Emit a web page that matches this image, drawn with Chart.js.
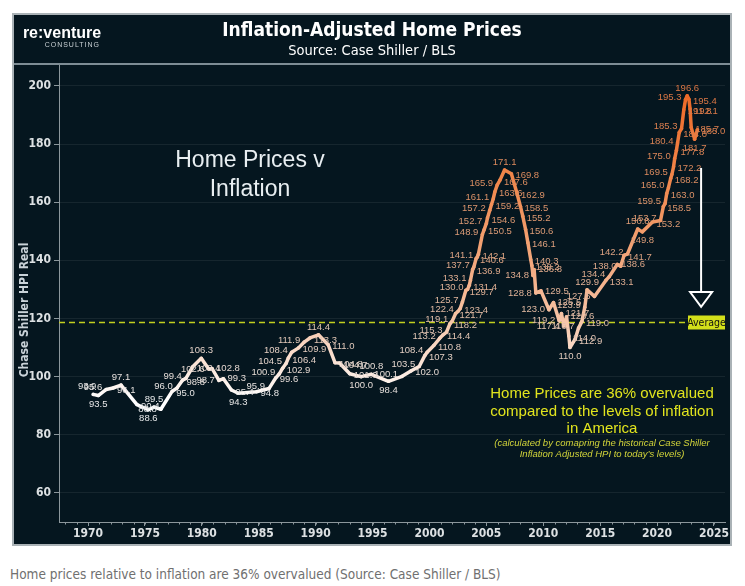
<!DOCTYPE html>
<html>
<head>
<meta charset="utf-8">
<script src="https://cdn.jsdelivr.net/npm/chart.js@4.4.1/dist/chart.umd.min.js"></script>
<style>
body{margin:0;background:#fff;width:745px;height:586px;overflow:hidden;position:relative;}
#panel{position:absolute;left:12px;top:13px;width:720px;height:533px;box-sizing:border-box;border:2px solid #aab2b6;background:#05161f;}
#panel canvas{display:block;}
#caption{position:absolute;left:10px;top:566px;font:13.5px 'DejaVu Sans Condensed',sans-serif;color:#707070;white-space:nowrap;}
</style>
</head>
<body>
<div id="panel"><canvas id="hpiChart" width="716" height="529"></canvas></div>
<div id="caption">Home prices relative to inflation are 36% overvalued (Source: Case Shiller / BLS)</div>
<script>
// labelled points (year, real HPI)
var years = [1970.45, 1970.9, 1971.6, 1972.2, 1972.9, 1974.3, 1975.3, 1975.8, 1976.4, 1977.4,
  1977.8, 1978.3, 1978.6, 1979.2, 1979.95, 1980.6, 1980.9, 1981.5, 1981.9, 1982.6,
  1983.2, 1984.8, 1985.9, 1986.5, 1986.8, 1987.1, 1987.4, 1987.6, 1987.9, 1988.5,
  1989.0, 1989.5, 1990.25, 1991.1, 1991.7, 1992.1, 1993.0, 1994.0, 1994.9, 1996.4,
  1997.6, 1998.4, 1999.1, 1999.6, 1999.8, 2000.4, 2000.9, 2001.2, 2001.5, 2001.8,
  2002.0, 2002.3, 2002.5, 2002.7, 2002.9, 2003.2, 2003.35, 2003.5, 2003.6, 2003.8,
  2003.9, 2004.1, 2004.2, 2004.3, 2004.65, 2004.8, 2005.0, 2005.1, 2005.3, 2005.45,
  2005.6, 2005.75, 2005.95, 2006.2, 2006.6, 2007.2, 2007.7, 2008.0, 2008.2, 2008.45,
  2008.65, 2008.9, 2009.0, 2009.1, 2009.2, 2009.35, 2009.8, 2010.5, 2010.9, 2011.4,
  2011.6, 2011.8, 2012.05, 2012.25, 2012.35, 2012.8, 2013.1, 2013.4, 2013.65, 2013.85,
  2014.5, 2015.5, 2015.8, 2016.5, 2016.8, 2017.1, 2017.4, 2018.3, 2018.7, 2019.6,
  2020.3, 2020.55, 2020.7, 2020.85, 2021.0, 2021.2, 2021.3, 2021.45, 2021.55, 2021.7,
  2021.8, 2021.95, 2022.15, 2022.35, 2022.5, 2022.65, 2022.8, 2022.9, 2023.0, 2023.3,
  2023.55];
var values = [93.9, 93.5, 95.6, 96.1, 97.1, 90.4, 88.6, 89.5, 88.8, 95.0,
  96.0, 98.8, 99.4, 103.4, 106.3, 102.6, 102.8, 98.7, 99.3, 95.4,
  94.3, 94.8, 95.9, 99.6, 100.9, 102.9, 104.5, 106.4, 108.4, 109.9,
  111.9, 113.3, 114.4, 111.0, 104.8, 104.7, 101.0, 100.0, 100.8, 98.4,
  100.1, 102.0, 103.5, 107.3, 108.4, 110.8, 113.2, 114.4, 115.3, 118.2,
  119.1, 121.7, 122.4, 123.4, 125.7, 129.7, 130.0, 131.4, 133.1, 136.9,
  137.7, 140.6, 141.1, 142.1, 148.9, 150.5, 152.7, 154.6, 157.2, 159.2,
  161.1, 163.6, 165.9, 167.6, 171.1, 169.8, 162.9, 158.5, 155.2, 150.6,
  146.1, 140.3, 138.2, 134.8, 136.8, 128.8, 129.5, 123.0, 125.5, 119.2,
  121.7, 117.4, 120.6, 114.0, 110.0, 112.9, 116.7, 119.0, 123.9, 129.9,
  127.6, 133.1, 134.4, 138.6, 138.0, 141.7, 142.2, 150.8, 149.8, 153.2,
  153.7, 158.5, 159.5, 163.0, 165.0, 168.2, 169.5, 172.2, 175.0, 177.8,
  180.4, 184.0, 185.3, 191.8, 195.3, 196.6, 195.4, 192.1, 185.7, 181.7,
  185.0];
var yTicks = [60, 80, 100, 120, 140, 160, 180, 200];
var xTicks = [1970, 1975, 1980, 1985, 1990, 1995, 2000, 2005, 2010, 2015, 2020, 2025];
var average = 118.7;

var NARROW = "'Liberation Sans Narrow','DejaVu Sans Condensed',sans-serif";
var SANS = "'Liberation Sans',Arial,sans-serif";

// white at low values -> orange at the top
var stops = [[92, [255, 255, 255]], [105, [251, 226, 212]], [120, [246, 196, 166]],
  [140, [243, 167, 124]], [165, [240, 138, 80]], [197, [238, 106, 40]]];
function colorAt(v, grey) {
  var c = stops[stops.length - 1][1];
  if (v <= stops[0][0]) c = stops[0][1];
  else {
    for (var i = 1; i < stops.length; i++) {
      if (v <= stops[i][0]) {
        var a = stops[i - 1], b = stops[i], t = (v - a[0]) / (b[0] - a[0]);
        c = a[1].map(function (x, k) { return x + (b[1][k] - x) * t; });
        break;
      }
    }
  }
  grey = grey || 0;
  var g = [150, 160, 166];
  c = c.map(function (x, k) { return Math.round(x * (1 - grey) + g[k] * grey); });
  return 'rgb(' + c.join(',') + ')';
}

function lineGradient(context) {
  var chart = context.chart;
  if (!chart.chartArea) return '#fff';
  var ys = chart.scales.y;
  var lo = stops[0][0], hi = stops[stops.length - 1][0];
  var g = chart.ctx.createLinearGradient(0, ys.getPixelForValue(lo), 0, ys.getPixelForValue(hi));
  stops.forEach(function (s) { g.addColorStop((s[0] - lo) / (hi - lo), colorAt(s[0])); });
  return g;
}

// is values[i] the extreme (sign 1 = max, -1 = min) within +-1.2 years
function isMajor(i, sign) {
  for (var j = 0; j < values.length; j++) {
    if (j !== i && Math.abs(years[j] - years[i]) <= 1.2 && sign * (values[j] - values[i]) > 0) return false;
  }
  return true;
}

var extras = {
  id: 'extras',
  beforeDatasetsDraw: function (chart) {
    var c = chart.ctx, a = chart.chartArea, ys = chart.scales.y;
    var y = Math.round(ys.getPixelForValue(average)) + 0.5;
    c.save();
    c.strokeStyle = '#c3cf1f';
    c.lineWidth = 1.3;
    c.setLineDash([6, 4]);
    c.beginPath();
    c.moveTo(a.left, y);
    c.lineTo(a.right - 37, y);
    c.stroke();
    c.setLineDash([]);
    c.fillStyle = '#d3df1a';
    c.fillRect(a.right - 37, y - 7, 37, 14);
    c.fillStyle = '#111';
    c.font = '10.5px ' + NARROW;
    c.textAlign = 'center';
    c.textBaseline = 'middle';
    c.fillText('Average', a.right - 18.5, y + 0.5);
    c.restore();
  },
  afterDatasetsDraw: function (chart) {
    var c = chart.ctx, a = chart.chartArea, xs = chart.scales.x, ys = chart.scales.y;
    var W = chart.width;
    c.save();
    // header
    c.strokeStyle = '#7e8d95';
    c.lineWidth = 2;
    c.beginPath();
    c.moveTo(0, a.top - 1);
    c.lineTo(W, a.top - 1);
    c.stroke();
    c.textAlign = 'center';
    c.textBaseline = 'middle';
    c.fillStyle = '#ffffff';
    c.font = 'bold 19px ' + NARROW;
    c.fillText('Inflation-Adjusted Home Prices', 358, 16);
    c.font = '14.5px ' + NARROW;
    c.fillText('Source: Case Shiller / BLS', 358, 36);
    c.font = 'bold 16px ' + SANS;
    c.fillText('re:venture', 48, 19);
    c.font = '7px ' + SANS;
    c.fillStyle = '#c9d0d4';
    c.textAlign = 'right';
    if (c.letterSpacing !== undefined) c.letterSpacing = '1px';
    c.fillText('CONSULTING', 86, 30);
    if (c.letterSpacing !== undefined) c.letterSpacing = '0px';

    // y title
    c.save();
    c.translate(11, 295);
    c.rotate(-Math.PI / 2);
    c.textAlign = 'center';
    c.fillStyle = '#c9d2d8';
    c.font = 'bold 12px ' + NARROW;
    c.fillText('Chase Shiller HPI Real', 0, 0);
    c.restore();

    // minor year ticks
    c.strokeStyle = '#8c979c';
    c.lineWidth = 1;
    c.beginPath();
    for (var yr = Math.ceil(xs.min); yr <= xs.max; yr++) {
      var px = Math.round(xs.getPixelForValue(yr)) + 0.5;
      c.moveTo(px, a.bottom);
      c.lineTo(px, a.bottom + 2.5);
    }
    c.stroke();

    // point labels
    var meta = chart.getDatasetMeta(0);
    c.font = '9.5px ' + SANS;
    meta.data.forEach(function (pt, i) {
      var v = values[i], p = values[i - 1], n = values[i + 1];
      var last = n === undefined;
      var up = !last && (p === undefined || v > p) && v > n;
      var down = !last && (p === undefined || v < p) && v < n;
      c.fillStyle = colorAt(v, 0.22);
      var txt = v.toFixed(1);
      if (i === 0 || (up && isMajor(i, 1))) {
        c.textAlign = 'center'; c.textBaseline = 'bottom';
        c.fillText(txt, pt.x - (i === 0 ? 6 : 0), pt.y - 3);
      } else if (down && isMajor(i, -1)) {
        c.textAlign = 'center'; c.textBaseline = 'top';
        c.fillText(txt, pt.x, pt.y + 4);
      } else if (up) {
        c.textAlign = 'left'; c.textBaseline = 'middle';
        c.fillText(txt, pt.x + 4, pt.y);
      } else if (down) {
        c.textAlign = 'right'; c.textBaseline = 'middle';
        c.fillText(txt, pt.x - 4, pt.y);
      } else if (last || n < p || i % 2 === 1) {
        c.textAlign = 'left'; c.textBaseline = 'middle';
        c.fillText(txt, pt.x + 4, pt.y + 2);
      } else {
        c.textAlign = 'right'; c.textBaseline = 'middle';
        c.fillText(txt, pt.x - 4, pt.y - 2);
      }
    });

    // annotations
    c.textAlign = 'center';
    c.textBaseline = 'middle';
    c.fillStyle = '#e8eef1';
    c.font = '23px ' + SANS;
    c.fillText('Home Prices v', 236, 146);
    c.fillText('Inflation', 236, 175);

    c.fillStyle = '#e1e41e';
    c.font = '15px ' + SANS;
    c.fillText('Home Prices are 36% overvalued', 588, 379);
    c.fillText('compared to the levels of inflation', 588, 397);
    c.fillText('in America', 588, 414);
    c.fillStyle = '#d2d43a';
    c.font = 'italic 9.5px ' + SANS;
    c.fillText('(calculated by comapring the historical Case Shiller', 588, 428);
    c.fillText('Inflation Adjusted HPI to today\u2019s levels)', 588, 439);

    // arrow
    var ax = xs.getPixelForValue(2023.87);
    var aTop = ys.getPixelForValue(171.8), aBase = ys.getPixelForValue(129.1), aTip = ys.getPixelForValue(124);
    c.strokeStyle = '#ffffff';
    c.lineWidth = 2;
    c.beginPath();
    c.moveTo(ax, aTop);
    c.lineTo(ax, aBase);
    c.stroke();
    c.beginPath();
    c.moveTo(ax - 11, aBase);
    c.lineTo(ax + 11, aBase);
    c.lineTo(ax, aTip);
    c.closePath();
    c.stroke();
    c.restore();
  }
};

var ctx = document.getElementById('hpiChart').getContext('2d');
var hpiChart = new Chart(ctx, {
  type: 'line',
  data: {
    datasets: [{
      label: 'Chase Shiller HPI Real',
      data: years.map(function (x, i) { return { x: x, y: values[i] }; }),
      borderColor: lineGradient,
      borderWidth: 3.5,
      borderJoinStyle: 'round',
      pointRadius: 1.8,
      pointBackgroundColor: function (c) { return colorAt(values[c.dataIndex]); },
      pointBorderWidth: 0,
      tension: 0
    }]
  },
  options: {
    responsive: false,
    animation: false,
    layout: { padding: { top: 50, right: 5, left: 0, bottom: 0 } },
    plugins: { legend: { display: false }, tooltip: { enabled: false } },
    scales: {
      x: {
        type: 'linear',
        min: 1967.45,
        max: 2025.97,
        afterBuildTicks: function (s) { s.ticks = xTicks.map(function (v) { return { value: v }; }); },
        afterFit: function (s) { s.height = 22; s.paddingLeft = 0; s.paddingRight = 0; },
        grid: { drawOnChartArea: false, color: '#8c979c', tickLength: 4 },
        border: { color: '#8c979c' },
        ticks: {
          color: '#dde1e3', padding: 1, maxRotation: 0, autoSkip: false,
          font: { family: NARROW, size: 12, weight: 'bold' },
          callback: function (v) { return String(v); }
        }
      },
      y: {
        min: 50,
        max: 207.2,
        afterBuildTicks: function (s) { s.ticks = yTicks.map(function (v) { return { value: v }; }); },
        afterFit: function (s) { s.width = 45; s.paddingTop = 0; s.paddingBottom = 0; },
        grid: { color: 'rgba(255,255,255,0.07)', tickColor: '#8c979c', tickLength: 5 },
        border: { color: '#8c979c' },
        ticks: {
          color: '#dde1e3', padding: 3,
          font: { family: NARROW, size: 12, weight: 'bold' }
        }
      }
    }
  },
  plugins: [extras]
});
</script>
</body>
</html>
